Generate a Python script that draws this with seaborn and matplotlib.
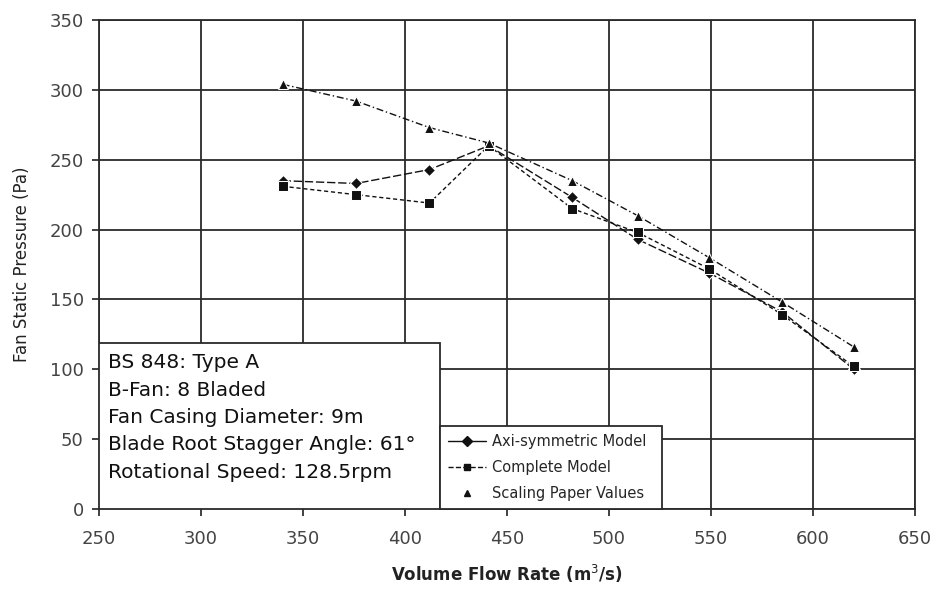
import matplotlib
matplotlib.use("Agg")
import matplotlib.pyplot as plt
import seaborn as sns
import pandas as pd
from matplotlib.lines import Line2D
from matplotlib.patches import Rectangle

flow = [340, 376, 412, 441, 482, 514, 549, 585, 620]
axisym = [235, 233, 243, 260, 223, 193, 169, 141, 100]
complete = [231, 225, 219, 260, 215, 198, 172, 139, 102]
scaling = [304, 292, 273, 262, 235, 210, 180, 148, 116]
series_names = ["Axi-symmetric Model", "Complete Model", "Scaling Paper Values"]
info_lines = ["BS 848: Type A", "B-Fan: 8 Bladed", "Fan Casing Diameter: 9m",
              "Blade Root Stagger Angle: 61°", "Rotational Speed: 128.5rpm"]

df = pd.DataFrame({
    "flow": flow * 3,
    "pressure": axisym + complete + scaling,
    "series": [series_names[0]] * 9 + [series_names[1]] * 9 + [series_names[2]] * 9,
})

sns.set_theme(style="white")
plt.rcParams["font.family"] = ["DejaVu Sans"]

fig = plt.figure(figsize=(9.46, 5.93), dpi=100)
ax = fig.add_axes([0.1047, 0.1417, 0.8625, 0.8245])

markers = {series_names[0]: "D", series_names[1]: "s", series_names[2]: "^"}
dashes = {series_names[0]: (6, 2), series_names[1]: (3, 2), series_names[2]: (5, 2, 1, 2)}
sns.lineplot(data=df, x="flow", y="pressure", hue="series", style="series",
             markers=markers, dashes=dashes, palette=["#111111"] * 3,
             markersize=6.5, linewidth=1.0, ax=ax, legend=False)

ax.set_xlim(250, 650)
ax.set_ylim(0, 350)
ax.set_xticks(range(250, 651, 50))
ax.set_yticks(range(0, 351, 50))
ax.grid(True, color="#2a2a2a", linewidth=1.3)
ax.set_axisbelow(True)
for s in ax.spines.values():
    s.set_color("#2a2a2a")
    s.set_linewidth(1.3)
ax.tick_params(axis="both", labelsize=13, colors="#2a2a2a", labelcolor="#444444",
               length=5, direction="out", bottom=True, left=True)
ax.tick_params(axis="x", pad=10)
ax.tick_params(axis="y", pad=6)
ax.set_xlabel("Volume Flow Rate (m$^3$/s)", fontsize=12, fontweight="bold",
              color="#222222", labelpad=11)
ax.set_ylabel("Fan Static Pressure (Pa)", fontsize=12, color="#222222", labelpad=13)

# info box
ax.add_patch(Rectangle((0, 0), 0.418, 0.339, transform=ax.transAxes,
                       facecolor="white", edgecolor="#2a2a2a", linewidth=1.3, zorder=5))
for i, line in enumerate(info_lines):
    ax.text(0.011, 0.2986 - i * 0.0558, line, transform=ax.transAxes, fontsize=14.5,
            va="center", ha="left", color="#111111", zorder=6)

handles = [
    Line2D([], [], color="#111111", marker="D", markersize=5, linestyle="-", linewidth=1),
    Line2D([], [], color="#111111", marker="s", markersize=5, linestyle="--", linewidth=1),
    Line2D([], [], color="#111111", marker="^", markersize=5, linestyle="none"),
]
leg = ax.legend(handles, series_names, loc="lower left",
                bbox_to_anchor=(0.418, 0.0, 0.272, 0.17), mode="expand", borderaxespad=0,
                fontsize=10.5, frameon=True, fancybox=False, framealpha=1,
                edgecolor="#2a2a2a", borderpad=0.55, labelspacing=0.75, handlelength=2.6,
                handletextpad=0.4)
leg.get_frame().set_linewidth(1.3)
leg.set_zorder(7)

fig.savefig("out.png", dpi=100)
